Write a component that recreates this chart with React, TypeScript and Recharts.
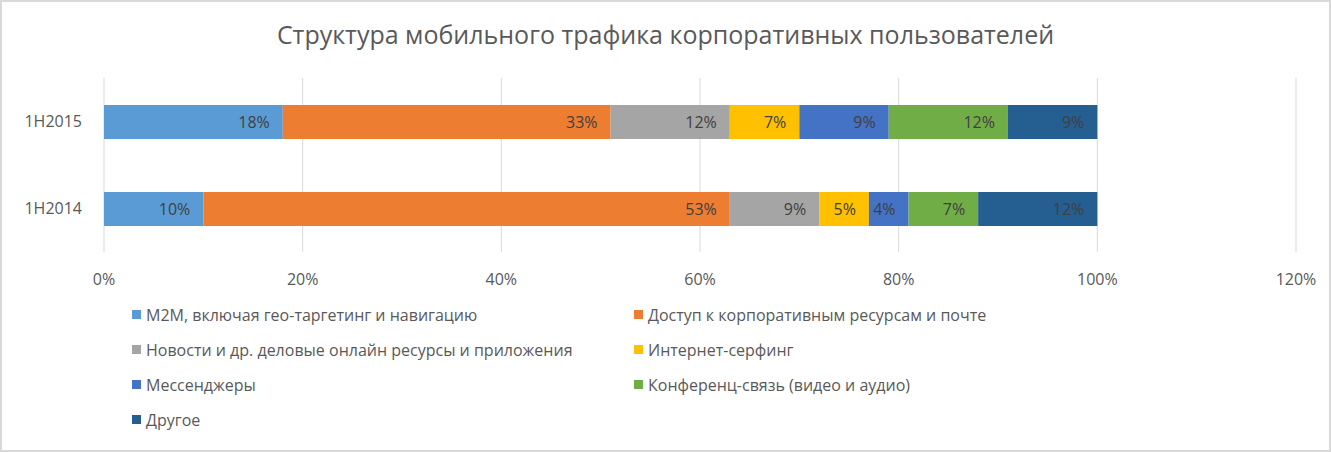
import React from 'react';
import { BarChart, Bar, XAxis, YAxis, CartesianGrid, LabelList } from 'recharts';

const categories = ['1H2015', '1H2014'];
const seriesNames = [
  'M2M, включая гео-таргетинг и навигацию',
  'Доступ к корпоративным ресурсам и почте',
  'Новости и др. деловые онлайн ресурсы и приложения',
  'Интернет-серфинг',
  'Мессенджеры',
  'Конференц-связь (видео и аудио)',
  'Другое',
];
const seriesColors = ['#5B9BD5', '#ED7D31', '#A5A5A5', '#FFC000', '#4472C4', '#70AD47', '#255E91'];
const values2015 = [18, 33, 12, 7, 9, 12, 9];
const values2014 = [10, 53, 9, 5, 4, 7, 12];
const xTicks = [0, 20, 40, 60, 80, 100, 120];
const title = 'Структура мобильного трафика корпоративных пользователей';

const valuesByCategory = [values2015, values2014];
const data = categories.map((c, ci) => {
  const row: Record<string, any> = { name: c };
  seriesNames.forEach((_, si) => {
    row['s' + si] = valuesByCategory[ci][si];
  });
  return row;
});

const FONT = '"Open Sans", sans-serif';

export default function App() {
  return (
    <div style={{ position: 'absolute', left: 0, top: 0, width: 1331, height: 452, background: '#fff', fontFamily: FONT }}>
      <div style={{ position: 'absolute', left: 0, top: 0, width: 1331, height: 452, boxSizing: 'border-box', border: '2px solid #D9D9D9', pointerEvents: 'none', zIndex: 2 }} />
      <div style={{ position: 'absolute', left: 0, top: 17, width: 1331, textAlign: 'center', fontSize: 25, color: '#595959', fontWeight: 400 }}>
        {title}
      </div>
      <div style={{ position: 'absolute', left: 0, top: 0 }}>
        <BarChart
          width={1331}
          height={452}
          data={data}
          layout="vertical"
          margin={{ top: 78, right: 35, bottom: 170, left: 0 }}
          barSize={34}
        >
          <CartesianGrid horizontal={false} vertical={true} stroke="#D9D9D9" />
          <XAxis
            type="number"
            domain={[0, 120]}
            ticks={xTicks}
            tickFormatter={(v: number) => v + '%'}
            axisLine={false}
            tickLine={false}
            tickSize={0}
            tickMargin={22}
            height={30}
            interval={0}
            tick={{ fill: '#595959', fontSize: 16, fontFamily: FONT }}
          />
          <YAxis
            type="category"
            dataKey="name"
            width={104}
            axisLine={false}
            tickLine={false}
            tickSize={0}
            tickMargin={22}
            tick={{ fill: '#595959', fontSize: 16, fontFamily: FONT }}
          />
          {seriesNames.map((n, si) => (
            <Bar key={si} dataKey={'s' + si} name={n} stackId="a" fill={seriesColors[si]} isAnimationActive={false}>
              <LabelList
                dataKey={'s' + si}
                position="insideRight"
                offset={13}
                formatter={(v: any) => v + '%'}
                style={{ fill: '#404040', fontSize: 16, fontFamily: FONT }}
              />
            </Bar>
          ))}
        </BarChart>
      </div>
      <div style={{ position: 'absolute', left: 132, top: 297, width: 1100, display: 'grid', gridTemplateColumns: '502px 500px', rowGap: 0 }}>
        {seriesNames.map((n, si) => (
          <div key={si} style={{ display: 'flex', alignItems: 'center', height: 35, fontSize: 16, color: '#595959' }}>
            <span style={{ display: 'inline-block', width: 9, height: 9, background: seriesColors[si], marginRight: 5 }} />
            <span>{n}</span>
          </div>
        ))}
      </div>
    </div>
  );
}
